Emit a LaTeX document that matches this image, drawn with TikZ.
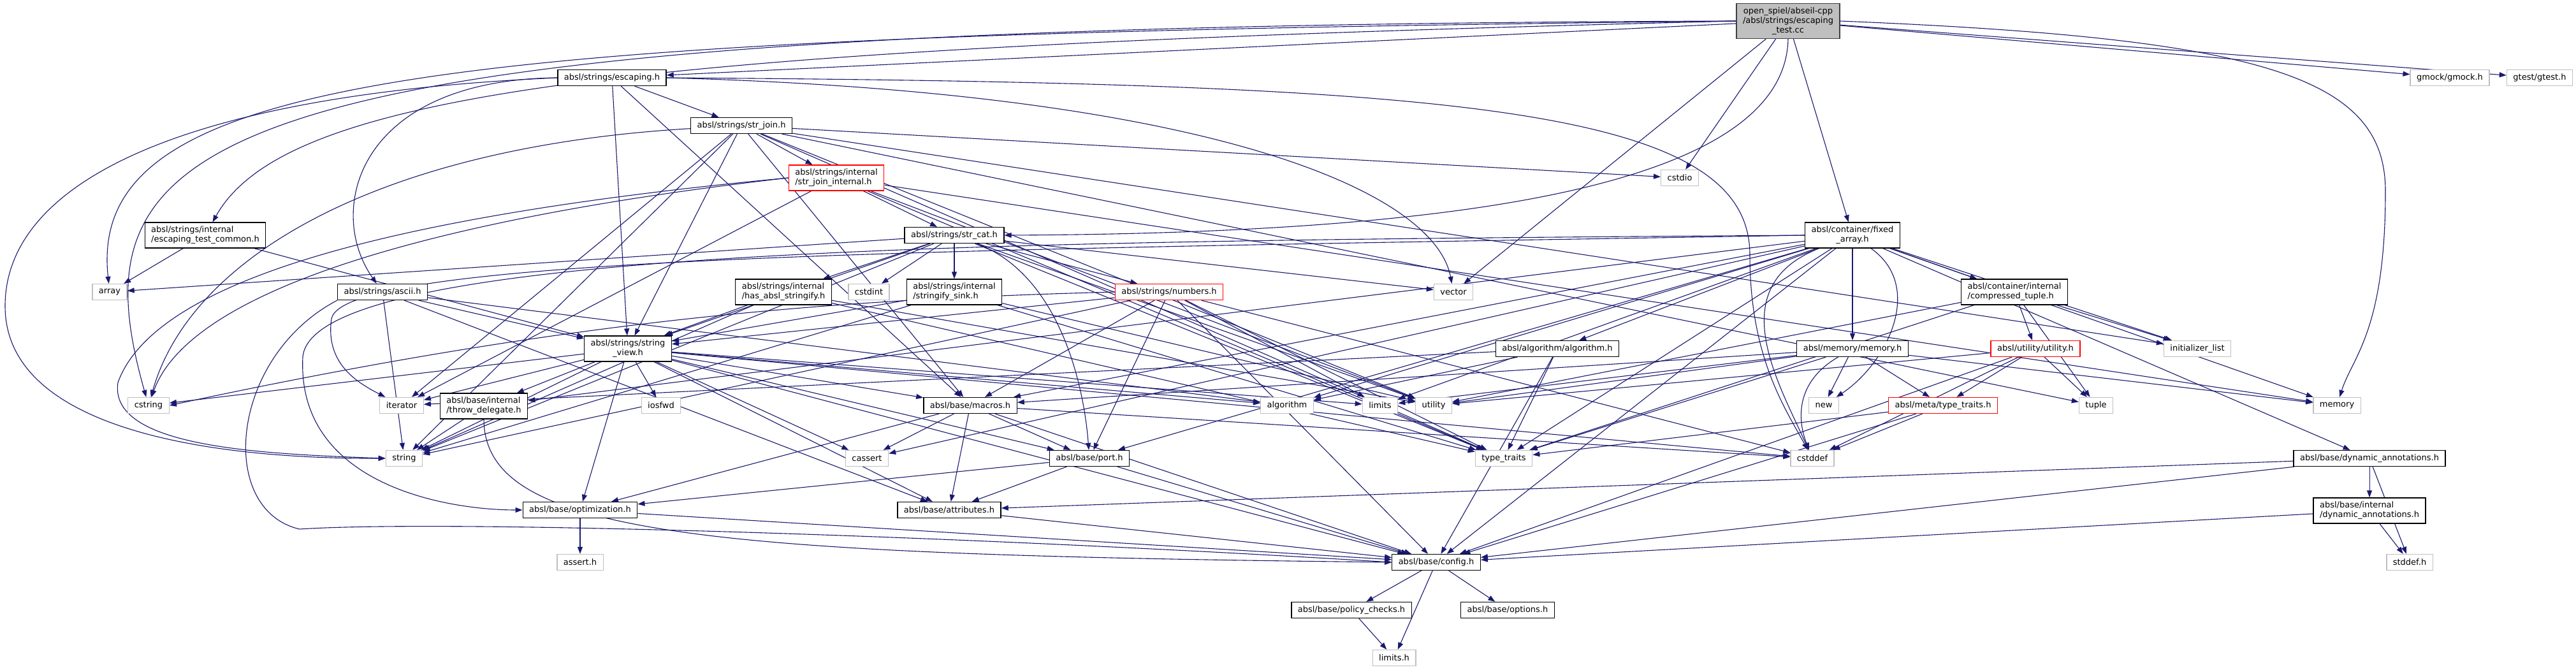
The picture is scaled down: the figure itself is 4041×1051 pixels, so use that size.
\documentclass[tikz,border=0pt]{standalone}
\usepackage{fontspec}
\setmainfont{DejaVu Sans}
\usetikzlibrary{arrows.meta,backgrounds}
\definecolor{edgeblue}{HTML}{191970}
\definecolor{sysgray} {HTML}{BFBFBF}
\definecolor{rootfill}{HTML}{BFBFBF}
\definecolor{rootline}{HTML}{404040}

\begin{document}
\begin{tikzpicture}[
  x=1pt, y=-1pt,
  font=\fontsize{13}{15}\selectfont,
  hdr/.style={draw=black, line width=1.3pt, fill=white, minimum height=25pt,
              inner xsep=10pt, inner ysep=6pt},
  syshdr/.style={hdr, draw=sysgray},
  cuthdr/.style={hdr, draw=red},
  roothdr/.style={hdr, draw=rootline, fill=rootfill, align=center},
  inc/.style={draw=edgeblue, line width=1.1pt, -{Triangle[length=11pt,width=8pt]}}
]
\useasboundingbox (0,0) rectangle (4041,1051);

% the file itself
\node[roothdr] (test) at (2805,33) {open\_spiel/abseil-cpp\\/absl/strings/escaping\\\_test.cc};

% rows of headers, top to bottom
\node[hdr] (escaping) at (960,122) {absl/strings/escaping.h};
\node[syshdr] (gmock) at (3843,122) {gmock/gmock.h};
\node[syshdr] (gtest) at (3984,122) {gtest/gtest.h};

\node[hdr] (strjoin) at (1163,197) {absl/strings/str\_join.h};

\node[cuthdr, align=left] (joininternal) at (1312,279) {absl/strings/internal\\/str\_join\_internal.h};
\node[syshdr] (cstdio) at (2635,279) {cstdio};

\node[hdr, align=left] (testcommon) at (322,369) {absl/strings/internal\\/escaping\_test\_common.h};
\node[hdr] (strcat) at (1497,369) {absl/strings/str\_cat.h};
\node[hdr, align=center] (fixedarray) at (2906,369) {absl/container/fixed\\\_array.h};

\node[syshdr] (array) at (172,458) {array};
\node[hdr] (ascii) at (600,458) {absl/strings/ascii.h};
\node[hdr, align=left] (hasstringify) at (1229,458) {absl/strings/internal\\/has\_absl\_stringify.h};
\node[syshdr] (cstdint) at (1363,458) {cstdint};
\node[hdr, align=left] (stringifysink) at (1497,458) {absl/strings/internal\\/stringify\_sink.h};
\node[cuthdr] (numbers) at (1834,458) {absl/strings/numbers.h};
\node[syshdr] (vector) at (2280,458) {vector};
\node[hdr, align=left] (compressedtuple) at (3160,458) {absl/container/internal\\/compressed\_tuple.h};

\node[hdr, align=center] (stringview) at (985,547) {absl/strings/string\\\_view.h};
\node[hdr] (algorithmh) at (2443,547) {absl/algorithm/algorithm.h};
\node[hdr] (memoryh) at (2906,547) {absl/memory/memory.h};
\node[cuthdr] (utilityh) at (3193,547) {absl/utility/utility.h};
\node[syshdr] (initlist) at (3447,547) {initializer\_list};

\node[syshdr] (cstring) at (233,636) {cstring};
\node[syshdr] (iterator) at (630,636) {iterator};
\node[hdr, align=left] (throwdelegate) at (759,637) {absl/base/internal\\/throw\_delegate.h};
\node[syshdr] (iosfwd) at (1037,636) {iosfwd};
\node[hdr] (macros) at (1522,636) {absl/base/macros.h};
\node[syshdr] (algorithm) at (2019,636) {algorithm};
\node[syshdr] (limits) at (2165,636) {limits};
\node[syshdr] (utility) at (2249,636) {utility};
\node[syshdr] (newhdr) at (2861,636) {new};
\node[cuthdr] (metatraits) at (3048,636) {absl/meta/type\_traits.h};
\node[syshdr] (tuple) at (3288,636) {tuple};
\node[syshdr] (memory) at (3666,636) {memory};

\node[syshdr] (string) at (634,719) {string};
\node[syshdr] (cassert) at (1360,719) {cassert};
\node[hdr] (port) at (1709,719) {absl/base/port.h};
\node[syshdr] (typetraits) at (2359,719) {type\_traits};
\node[syshdr] (cstddef) at (2843,719) {cstddef};
\node[hdr] (dynannot) at (3717,719) {absl/base/dynamic\_annotations.h};

\node[hdr] (optimization) at (910,800) {absl/base/optimization.h};
\node[hdr] (attributes) at (1489,800) {absl/base/attributes.h};
\node[hdr, align=left] (dynannotint) at (3717,801) {absl/base/internal\\/dynamic\_annotations.h};

\node[syshdr] (asserth) at (910,882) {assert.h};
\node[hdr] (config) at (2253,882) {absl/base/config.h};
\node[syshdr] (stddefh) at (3780,882) {stddef.h};

\node[hdr] (policychecks) at (2120,957) {absl/base/policy\_checks.h};
\node[hdr] (options) at (2365,957) {absl/base/options.h};

\node[syshdr] (limitsh) at (2187,1032) {limits.h};

\begin{scope}[on background layer]
% escaping_test.cc
\draw[inc] (test) -- (escaping);
\draw[inc] (test.west) .. controls (700,55) and (135,110) .. (array);
\draw[inc] (test.west) .. controls (300,40) and (110,200) .. (cstring);
\draw[inc] (test.west) .. controls (1000,75) and (450,140) .. (testcommon);
\draw[inc] (test) -- (cstdio);
\draw[inc] (test) -- (vector);
\draw[inc] (test) -- (gmock);
\draw[inc] (test) -- (gtest);
\draw[inc] (test) -- (fixedarray);
\draw[inc] (test.south) .. controls (2800,290) and (2300,366) .. (strcat.east);
\draw[inc] (test.east) .. controls (3550,60) and (3742,120) .. (3742,300)
  .. controls (3742,520) and (3690,560) .. (memory);

% escaping.h
\draw[inc] (escaping.west) .. controls (250,150) and (8,300) .. (8,480)
  .. controls (8,680) and (350,720) .. (string.west);
\draw[inc] (escaping.west) .. controls (560,125) and (510,330) .. (ascii);
\draw[inc] (escaping) -- (stringview);
\draw[inc] (escaping) -- (strjoin);
\draw[inc] (escaping) -- (macros);
\draw[inc] (escaping.east) .. controls (2300,130) and (2745,170) .. (2745,400)
  .. controls (2745,560) and (2800,640) .. (cstddef);
\draw[inc] (escaping.east) .. controls (1900,145) and (2250,300) .. (vector);

% str_join.h
\draw[inc] (strjoin) -- (cstdio);
\draw[inc] (strjoin) .. controls (600,230) and (300,400) .. (cstring);
\draw[inc] (strjoin) -- (initlist);
\draw[inc] (strjoin) -- (iterator);
\draw[inc] (strjoin) -- (string);
\draw[inc] (strjoin) -- (tuple);
\draw[inc] (strjoin) -- (typetraits);
\draw[inc] (strjoin) -- (utility);
\draw[inc] (strjoin) -- (macros);
\draw[inc] (strjoin) -- (joininternal);
\draw[inc] (strjoin) -- (stringview);

% str_join_internal.h
\draw[inc] (joininternal.west) .. controls (700,340) and (300,450) .. (cstring);
\draw[inc] (joininternal) -- (iterator);
\draw[inc] (joininternal) -- (memory);
\draw[inc] (joininternal.west) .. controls (700,330) and (250,420) .. (185,600)
  .. controls (170,700) and (400,712) .. (string.west);
\draw[inc] (joininternal) -- (typetraits);
\draw[inc] (joininternal) -- (utility);
\draw[inc] (joininternal) -- (strcat);

% str_cat.h
\draw[inc] (strcat) -- (array);
\draw[inc] (strcat) -- (cstdint);
\draw[inc] (strcat) -- (string);
\draw[inc] (strcat) -- (typetraits);
\draw[inc] (strcat) -- (utility);
\draw[inc] (strcat) -- (vector);
\draw[inc] (strcat) .. controls (1660,430) and (1700,600) .. (port);
\draw[inc] (strcat) -- (hasstringify);
\draw[inc] (strcat) -- (stringifysink);
\draw[inc] (strcat) -- (numbers);
\draw[inc] (strcat) -- (stringview);

% escaping_test_common.h
\draw[inc] (testcommon) -- (array);
\draw[inc] (testcommon) -- (stringview);

% ascii.h
\draw[inc] (ascii) -- (algorithm);
\draw[inc] (ascii) -- (string);
\draw[inc] (ascii) -- (attributes);
\draw[inc] (ascii.south west) .. controls (360,560) and (340,800) .. (470,830)
  .. controls (700,815) and (1500,840) .. (config.west);
\draw[inc] (ascii) -- (stringview);

% has_absl_stringify.h, stringify_sink.h
\draw[inc] (hasstringify) -- (string);
\draw[inc] (hasstringify) -- (typetraits);
\draw[inc] (hasstringify) -- (utility);
\draw[inc] (hasstringify) -- (stringview);
\draw[inc] (stringifysink) -- (string);
\draw[inc] (stringifysink) -- (typetraits);
\draw[inc] (stringifysink) -- (utility);
\draw[inc] (stringifysink) -- (stringview);

% numbers.h
\draw[inc] (numbers) -- (cstddef);
\draw[inc] (numbers.west) .. controls (1300,470) and (900,500) .. (cstring.east);
\draw[inc] (numbers) -- (limits);
\draw[inc] (numbers) -- (string);
\draw[inc] (numbers) -- (typetraits);
\draw[inc] (numbers) -- (config);
\draw[inc] (numbers) -- (macros);
\draw[inc] (numbers) -- (port);
\draw[inc] (numbers) -- (stringview);

% string_view.h
\draw[inc] (stringview) -- (algorithm);
\draw[inc] (stringview) -- (cassert);
\draw[inc] (stringview) -- (cstddef);
\draw[inc] (stringview) -- (cstring);
\draw[inc] (stringview) -- (iosfwd);
\draw[inc] (stringview) -- (iterator);
\draw[inc] (stringview) -- (limits);
\draw[inc] (stringview) -- (string);
\draw[inc] (stringview) -- (attributes);
\draw[inc] (stringview) -- (config);
\draw[inc] (stringview) -- (throwdelegate);
\draw[inc] (stringview) -- (macros);
\draw[inc] (stringview) -- (optimization);
\draw[inc] (stringview) -- (port);

% absl/base
\draw[inc] (throwdelegate) -- (string);
\draw[inc] (throwdelegate.south) .. controls (760,840) and (1100,870) .. (config.west);
\draw[inc] (macros) -- (cassert);
\draw[inc] (macros) -- (cstddef);
\draw[inc] (macros) -- (attributes);
\draw[inc] (macros) -- (config);
\draw[inc] (macros) -- (optimization);
\draw[inc] (macros) -- (port);
\draw[inc] (port) -- (attributes);
\draw[inc] (port) -- (config);
\draw[inc] (port) -- (optimization);
\draw[inc] (optimization) -- (asserth);
\draw[inc] (optimization) -- (config);
\draw[inc] (attributes) -- (config);
\draw[inc] (config) -- (limitsh);
\draw[inc] (config) -- (options);
\draw[inc] (config) -- (policychecks);
\draw[inc] (policychecks) -- (limitsh);

% fixed_array.h
\draw[inc] (fixedarray) -- (algorithm);
\draw[inc] (fixedarray) -- (cassert);
\draw[inc] (fixedarray) .. controls (2700,450) and (2790,600) .. (cstddef);
\draw[inc] (fixedarray) -- (initlist);
\draw[inc] (fixedarray.west) .. controls (1500,392) and (540,400) .. (520,500)
  .. controls (510,570) and (560,600) .. (iterator);
\draw[inc] (fixedarray) -- (limits);
\draw[inc] (fixedarray) -- (memory);
\draw[inc] (fixedarray) .. controls (3020,450) and (2960,570) .. (newhdr);
\draw[inc] (fixedarray) -- (typetraits);
\draw[inc] (fixedarray) -- (algorithmh);
\draw[inc] (fixedarray) -- (config);
\draw[inc] (fixedarray) -- (dynannot);
\draw[inc] (fixedarray) -- (throwdelegate);
\draw[inc] (fixedarray) -- (macros);
\draw[inc] (fixedarray.west) .. controls (1600,378) and (490,385) .. (475,560)
  .. controls (465,760) and (700,800) .. (optimization.west);
\draw[inc] (fixedarray) -- (port);
\draw[inc] (fixedarray) -- (compressedtuple);
\draw[inc] (fixedarray) -- (memoryh);

% algorithm.h, memory.h
\draw[inc] (algorithmh) -- (algorithm);
\draw[inc] (algorithmh) -- (iterator);
\draw[inc] (algorithmh) -- (typetraits);
\draw[inc] (algorithmh) -- (config);
\draw[inc] (memoryh) .. controls (2815,600) and (2820,660) .. (cstddef);
\draw[inc] (memoryh) -- (limits);
\draw[inc] (memoryh) -- (memory);
\draw[inc] (memoryh) -- (newhdr);
\draw[inc] (memoryh) -- (typetraits);
\draw[inc] (memoryh) -- (utility);
\draw[inc] (memoryh) -- (macros);
\draw[inc] (memoryh) -- (metatraits);

% compressed_tuple.h, utility.h, type_traits.h
\draw[inc] (compressedtuple) -- (initlist);
\draw[inc] (compressedtuple) -- (tuple);
\draw[inc] (compressedtuple) -- (typetraits);
\draw[inc] (compressedtuple) -- (utility);
\draw[inc] (compressedtuple) -- (utilityh);
\draw[inc] (utilityh) -- (cstddef);
\draw[inc] (utilityh) -- (tuple);
\draw[inc] (utilityh) -- (utility);
\draw[inc] (utilityh) -- (config);
\draw[inc] (utilityh) -- (metatraits);
\draw[inc] (metatraits) -- (cstddef);
\draw[inc] (metatraits) -- (typetraits);
\draw[inc] (metatraits) -- (config);

% dynamic_annotations.h
\draw[inc] (dynannot) -- (stddefh);
\draw[inc] (dynannot) -- (attributes);
\draw[inc] (dynannot) -- (config);
\draw[inc] (dynannot) -- (dynannotint);
\draw[inc] (dynannotint) -- (stddefh);
\draw[inc] (dynannotint) -- (config);
\end{scope}
\end{tikzpicture}
\end{document}
